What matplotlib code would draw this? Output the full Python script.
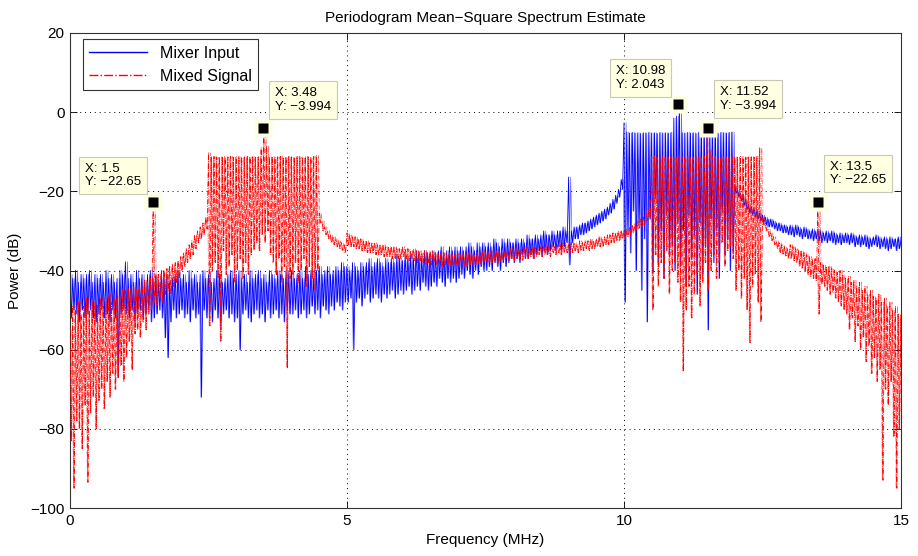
import numpy as np
import matplotlib
matplotlib.use("Agg")
import matplotlib.pyplot as plt

plt.rcParams['font.family'] = ['Liberation Sans', 'DejaVu Sans']

# ---------------- data ----------------
# frequency grid (MHz), 0.05 MHz step
freq = np.round(np.arange(0, 301) * 0.05, 3)

# Mixer Input: upper / lower extent of the periodogram in each 0.05 MHz bin (dB)
mixer_hi = [
    -41, -42, -40, -43, -41, -42, -41, -40, -43, -41,
    -42, -41, -43, -40, -42, -41, -43, -42, -40, -41,      # 0-1
    -37.8, -42, -41, -43, -40, -42, -41, -43, -41, -40,
    -42, -41, -43, -40, -42, -41, -43, -42, -41, -40,      # 1-2
    -42, -41, -43, -40, -42, -41, -43, -41, -40, -42,
    -41, -43, -42, -40, -41, -43, -42, -41, -40, -42,      # 2-3
    -41, -40, -42, -41, -43, -40, -42, -41, -40, -42,
    -41, -43, -40, -41, -42, -40, -41, -42, -40, -41,      # 3-4
    -40, -42, -41, -40, -42, -39, -41, -40, -42, -40,
    -39, -41, -40, -39, -41, -40, -39, -40, -38, -39,      # 4-5
    -39, -40, -38, -39, -40, -38, -39, -38, -37, -39,
    -38, -37, -38, -39, -37, -38, -37, -38, -36, -37,      # 5-6
    -37.5, -36, -37, -36, -37, -35, -36, -37, -35, -36,
    -36, -35, -36, -35, -34, -36, -35, -34, -35, -34,      # 6-7
    -35, -34, -35, -34, -33, -34, -35, -33, -34, -33,
    -34, -33, -34, -32, -33, -34, -32, -33, -32, -33,      # 7-8
    -33, -32, -33, -32, -33, -31, -32, -32, -31, -32,
    -31, -30, -31, -31, -30, -31, -30, -30, -29, -30,      # 8-9
    -16.4, -30, -29, -29, -28.5, -28, -28, -27.5, -27, -26.5,
    -26, -25.5, -25, -24.5, -24, -23, -22, -21, -19.5, -17,   # 9-10
    -2.7, -5.0, -5.3, -5.1, -5.3, -5.2, -5.4, -5.2, -5.3, -5.1,
    -5.3, -5.2, -5.4, -5.1, -5.3, -5.2, -5.3, -5.1, -1.5, -1.0,   # 10-11
    2.043, -5.2, -5.3, -5.1, -5.3, -5.2, -5.4, -5.1, -5.3, -5.2,
    -5.3, -5.1, -5.3, -5.2, -5.4, -5.1, -5.2, -5.3, -5.1, -5.0,   # 11-12
    -18.5, -19.5, -20.5, -21.5, -22.5, -23.5, -24, -24.5, -25, -25.5,
    -26, -26.5, -27, -27, -27.5, -28, -28, -28.5, -28.5, -29,     # 12-13
    -28.5, -29, -28.5, -29, -29.5, -29, -29.5, -30, -29.5, -30,
    -29.5, -30, -30.5, -30, -30.5, -30, -30.5, -31, -30.5, -31,   # 13-14
    -30.5, -31, -30.5, -31, -31.5, -31, -31.5, -31, -31.5, -32,
    -31.5, -31, -31.5, -32, -31.5, -32, -31.5, -32, -32, -31.5,   # 14-15
    -32.5,
]
mixer_lo = [
    -52, -50, -51, -53, -50, -52, -51, -50, -52, -53,
    -51, -50, -52, -51, -53, -50, -52, -67, -51, -50,      # 0-1
    -51, -52, -50, -53, -51, -50, -52, -51, -50, -53,
    -52, -51, -50, -52, -57, -62, -53, -50, -52, -51,      # 1-2
    -50, -52, -51, -53, -50, -52, -51, -72, -50, -52,
    -51, -53, -50, -52, -54, -51, -50, -52, -51, -53,      # 2-3
    -52, -60, -51, -50, -52, -53, -51, -50, -52, -51,
    -53, -50, -52, -51, -50, -52, -51, -53, -50, -51,      # 3-4
    -51, -50, -52, -51, -50, -52, -51, -49, -51, -50,
    -52, -49, -50, -51, -49, -50, -48, -49, -50, -48,      # 4-5
    -48, -47, -60, -48, -47, -49, -47, -46, -48, -47,
    -46, -47, -48, -46, -47, -46, -45, -47, -46, -45,      # 5-6
    -46, -45, -44, -46, -45, -44, -45, -43, -44, -45,
    -44, -43, -44, -42, -43, -44, -42, -43, -42, -43,      # 6-7
    -42, -41, -42, -40, -41, -42, -40, -41, -39, -40,
    -40, -39, -40, -38, -39, -40, -38, -39, -38, -37,      # 7-8
    -38, -37, -38, -36, -37, -37, -36, -37, -36, -35,
    -36, -35, -36, -35, -34, -35, -34, -35, -34, -33,      # 8-9
    -38.6, -33, -32, -32, -31, -31, -30.5, -30, -29.5, -29,
    -28.5, -28, -27.5, -27, -26, -25.5, -24.5, -23, -21.5, -19.5,   # 9-10
    -48, -30, -35.6, -25, -40, -28, -45, -32, -53, -27,
    -40.6, -22, -38, -30, -42, -26, -36, -33, -40, -28,            # 10-11
    -39, -30, -44, -26, -37, -31, -46, -28, -41, -33,
    -55, -27, -38, -30, -42, -25, -36, -32, -40, -35,              # 11-12
    -20.5, -21.5, -22.5, -23.5, -24.5, -25.5, -26, -26.5, -27, -27.5,
    -28, -28.5, -29, -29, -29.5, -30, -30, -30.5, -30.5, -31,      # 12-13
    -31, -31.5, -31, -31.5, -32, -31.5, -32, -32, -32.5, -32,
    -32.5, -33, -32.5, -33, -32.5, -33, -33.5, -33, -33.5, -33,    # 13-14
    -33, -33.5, -33, -34, -33.5, -34, -33.5, -34, -34.5, -34,
    -33.5, -34, -34.5, -34, -34.5, -35, -34.5, -34, -35, -34.5,    # 14-15
    -35,
]

# Mixed Signal: upper / lower extent per bin (dB)
mixed_hi = [
    -55, -49, -50, -48, -51, -49, -47, -50, -48, -49,
    -48.7, -47, -49, -48, -46, -48, -47, -46, -47, -45,            # 0-1
    -45, -44.5, -46, -44, -45, -43.5, -44, -42.5, -43, -42,
    -22.65, -41.5, -41, -40.5, -40, -39.5, -39, -38.5, -38, -37.5, # 1-2
    -36.5, -35.5, -34.5, -33.5, -32.5, -31, -30, -29, -28, -26.5,
    -10.3, -11.3, -11.2, -11.4, -11.3, -11.2, -11.4, -11.3, -11.2, -11.4,   # 2-3
    -11.3, -11.2, -11.4, -11.3, -11.2, -11.3, -11.1, -11.4, -11.3, -9.0,
    -3.994, -8.5, -11.3, -11.2, -11.4, -11.3, -11.2, -11.4, -11.3, -11.2,   # 3-4
    -11.3, -11.4, -11.2, -11.3, -11.4, -11.2, -11.3, -11.4, -11.2, -11.0,
    -25.5, -27.5, -29, -30, -31, -31.5, -32, -32.5, -33, -33.5,   # 4-5
    -30.5, -31, -31.5, -31.5, -32, -32, -32.5, -32.5, -33, -33,
    -33, -33.5, -33.5, -33.5, -34, -34, -34, -34, -34.5, -34.5,   # 5-6
    -34, -34.5, -34.5, -35, -34.5, -35, -35, -35.5, -35, -35.5,
    -35, -35.5, -35.5, -36, -35.5, -35.5, -36, -35.5, -36, -36,   # 6-7
    -35.5, -36, -35.5, -36, -35.5, -35.5, -36, -35.5, -35.5, -35,
    -35.5, -35.5, -35, -35.5, -35, -35, -35.5, -35, -35, -34.5,   # 7-8
    -35, -34.5, -35, -34.5, -34.5, -34, -34.5, -34, -34, -34.5,
    -34, -33.5, -34, -33.5, -33.5, -34, -33.5, -33.5, -33, -33.5, # 8-9
    -33.5, -33, -33, -33.5, -32.5, -33, -32.5, -32.5, -32, -32.5,
    -32, -31.5, -32, -31.5, -31, -31, -30.5, -30.5, -30, -30,     # 9-10
    -30, -29.5, -29, -28.5, -28, -27.5, -27, -26.5, -25.5, -24.5,
    -11.3, -11.2, -11.4, -11.3, -11.2, -11.4, -11.3, -11.2, -11.4, -11.3,   # 10-11
    -11.2, -11.3, -11.4, -11.2, -11.3, -11.4, -11.2, -11.3, -11.4, -11.2,
    -3.994, -9.5, -11.3, -11.2, -11.4, -11.3, -11.2, -11.4, -11.3, -11.2,   # 11-12
    -11.3, -11.4, -11.2, -11.3, -11.4, -11.2, -11.3, -11.4, -11.2, -9.0,
    -26.8, -28, -29.5, -30.5, -31.5, -32.5, -33, -33.5, -34, -34.5,         # 12-13
    -33.5, -34, -34.5, -35, -35, -35.5, -36, -36.5, -37, -37,
    -22.65, -38, -38.5, -39, -39, -39.5, -40, -40.5, -40, -41,              # 13-14
    -42, -41.5, -43, -42.5, -44, -43, -45, -44, -46, -45,
    -46.5, -47, -46, -48, -47, -49, -48, -50, -49, -51,                     # 14-15
    -52,
]
mixed_lo = [
    -83, -95, -78, -80, -85, -74, -93.5, -76, -72, -80,
    -73, -70, -75, -68, -72, -66, -70, -67, -64, -68,              # 0-1
    -62, -58, -65, -56, -55, -57, -53, -55, -51, -50,
    -48, -49, -47, -48, -46, -45, -46, -44, -43, -42,              # 1-2
    -40, -39, -38, -37, -36, -34.5, -33, -32, -31, -29.5,
    -54, -40, -38, -42, -58, -35, -41, -39, -36, -43,              # 2-3
    -40, -37, -42, -38, -41, -36, -34.8, -33, -35, -31,
    -33, -30, -36, -38, -41, -37, -43, -39, -64.6, -42,            # 3-4
    -41, -38, -43, -40, -37, -44, -39, -42, -45, -40,
    -28, -30, -31, -32, -33, -33.5, -34, -34.5, -35, -35.5,        # 4-5
    -33.5, -34, -34, -34.5, -34.5, -35, -35, -35.5, -35.5, -35.5,
    -36, -36, -36, -36.5, -36.5, -36.5, -37, -37, -37, -37,        # 5-6
    -36.5, -37, -37.5, -37, -37.5, -38, -37.5, -38, -38.5, -38,
    -38.5, -38, -38.5, -38.5, -39, -38.5, -38.5, -39, -38.5, -39,  # 6-7
    -38.5, -38, -38.5, -39, -38.5, -38, -38.5, -38, -38.5, -38,
    -37.5, -38, -38, -37.5, -38, -37.5, -37.5, -37, -37.5, -37,    # 7-8
    -37.5, -37, -37, -37.5, -36.5, -37, -36.5, -37, -36.5, -36,
    -36.5, -36, -36, -36.5, -35.5, -36, -35.5, -36, -35.5, -35.5,  # 8-9
    -35.5, -35.5, -35, -35.5, -35, -35, -34.5, -35, -34.5, -34.5,
    -34, -34, -34, -33.5, -33.5, -33, -33, -32.5, -32.5, -32,      # 9-10
    -32, -31.5, -31, -30.5, -30, -29.5, -29, -28.5, -27.5, -26.5,
    -50, -36, -44, -38, -42, -35, -46, -40, -38, -43,              # 10-11
    -48, -65.5, -50, -44, -52, -46, -41, -49, -43, -38,
    -45, -40, -36, -42, -38, -33, -39, -35, -34, -37,              # 11-12
    -45, -40, -47, -42, -50, -58.3, -44, -41, -48, -53,
    -28.5, -30, -31.5, -32.5, -33.5, -34.5, -35.5, -36, -36.5, -37,   # 12-13
    -37, -37.5, -38, -39, -39.5, -40, -41, -41.5, -42, -42.5,
    -51, -43.5, -44, -45, -46, -45.5, -47, -48, -49, -50,             # 13-14
    -51, -55, -52, -58, -54, -60, -57, -63, -59, -66,
    -62, -68, -65, -93, -70, -74, -68, -82, -95, -80,                 # 14-15
    -85,
]

# data tips
tip_x = [1.5, 3.48, 10.98, 11.52, 13.5]
tip_y = [-22.65, -3.994, 2.043, -3.994, -22.65]

series_names = ["Mixer Input", "Mixed Signal"]
title = "Periodogram Mean\u2212Square Spectrum Estimate"
xlabel = "Frequency (MHz)"
ylabel = "Power (dB)"
xticks = [0, 5, 10, 15]
yticks = [-100, -80, -60, -40, -20, 0, 20]

assert len(mixer_hi) == len(mixer_lo) == len(mixed_hi) == len(mixed_lo) == len(freq)


def zigzag(f, first, second, shift=0.0, half_step=0.025):
    f = np.asarray(f, dtype=float)
    x = np.empty(2 * len(f))
    y = np.empty(2 * len(f))
    x[0::2] = f + shift
    x[1::2] = f + shift + half_step
    y[0::2] = first
    y[1::2] = second
    return x, y


# ---------------- figure ----------------
W, H = 918, 556
fig = plt.figure(figsize=(W / 100, H / 100), dpi=100)
ax = fig.add_axes([70 / W, 1 - 508 / H, 831 / W, 475 / H])

# each periodogram drawn as a dense trace alternating between the bin extents
bx1, by1 = zigzag(freq, mixer_hi, mixer_lo)
bx2, by2 = zigzag(freq, mixer_lo, mixer_hi, shift=0.0125)
rx1, ry1 = zigzag(freq, mixed_hi, mixed_lo)
rx2, ry2 = zigzag(freq, mixed_lo, mixed_hi, shift=0.0125)

ax.plot(bx1, by1, color=(0, 0, 1), lw=0.6, label=series_names[0], zorder=2)
ax.plot(bx2, by2, color=(0, 0, 1), lw=0.5, alpha=0.6, zorder=2)
ax.plot(rx1, ry1, color=(1, 0, 0), lw=0.6, ls='-.', label=series_names[1], zorder=3)
ax.plot(rx2, ry2, color=(1, 0, 0), lw=0.5, ls='-.', alpha=0.6, zorder=3)

ax.set_xlim(0, 15)
ax.set_ylim(-100, 20)
ax.set_xticks(xticks)
ax.set_yticks(yticks)
ax.set_yticklabels([str(v).replace('-', '\u2212') for v in yticks])
ax.tick_params(direction='in', top=True, right=True, length=5, width=0.6,
               labelsize=11, pad=4, colors='black')
for s in ax.spines.values():
    s.set_linewidth(0.8)
    s.set_color('#333333')
ax.grid(True, color='black', lw=0.7, linestyle=(0, (1, 4)))
ax.set_axisbelow(True)

ax.set_title(title, fontsize=11, pad=8)
ax.set_xlabel(xlabel, fontsize=11, labelpad=4)
ax.set_ylabel(ylabel, fontsize=11, labelpad=6)

leg = ax.legend(loc='upper left', fontsize=11.5, handlelength=3.6,
                fancybox=False, framealpha=1, edgecolor='#333333',
                borderaxespad=0.4, bbox_to_anchor=(0.008, 1.0))
leg.get_frame().set_linewidth(0.8)
for ln in leg.get_lines():
    ln.set_linewidth(1.0)
    ln.set_alpha(1.0)

# data tips
offsets = [(-40, 26), (40, 28), (-38, 26), (40, 29), (40, 28)]
for x, y, (dx, dy) in zip(tip_x, tip_y, offsets):
    ax.plot([x], [y], marker='s', ms=12.5, color='#FFFFE1', mec='none', zorder=5)
    ax.plot([x], [y], marker='s', ms=7.2, color='black', mec='none', zorder=6)
    txt = f"X: {x:g}\nY: {y:g}".replace('-', '\u2212')
    ax.annotate(txt, xy=(x, y), xytext=(dx, dy), textcoords='offset pixels',
                ha='center', va='center', multialignment='left',
                fontsize=9.5, zorder=7, linespacing=1.15,
                bbox=dict(boxstyle='square,pad=0.45', fc='#FFFFE1',
                          ec='#C8C8B8', lw=0.8))

fig.savefig('out.png', dpi=100)
